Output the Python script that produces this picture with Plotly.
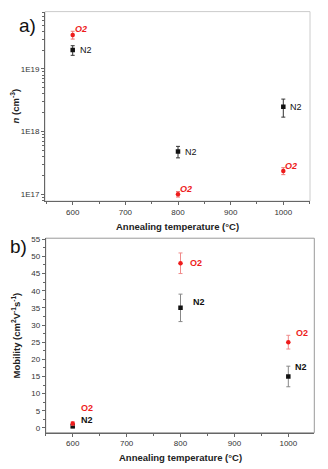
import math
import plotly.graph_objects as go

temps = [600, 800, 1000]

# Panel a: carrier concentration n (cm^-3)
n_N2 = [2.0e19, 4.8e17, 2.5e18]
n_N2_err = [0.35e19, 1.0e17, 0.8e18]
n_O2 = [3.5e19, 1.0e17, 2.35e17]
n_O2_err = [0.5e19, 0.1e17, 0.3e17]

# Panel b: mobility (cm^2 V^-1 s^-1)
mu_N2 = [0.5, 35, 15]
mu_N2_err = [0.5, 4, 3]
mu_O2 = [1.3, 48, 25]
mu_O2_err = [0.5, 3, 2]

n_ticks = [1e17, 1e18, 1e19]
n_ticktext = ["1E17", "1E18", "1E19"]
x_ticks = [600, 700, 800, 900, 1000]
mu_ticks = list(range(0, 60, 5))

FONT = "Liberation Sans, Arial, sans-serif"
RED = "#ee1c1c"
BLACK = "#111111"

# The page body has an 8px margin, so the figure is drawn 8px in from the
# window's top-left corner; work in window pixels and convert.
W, H, OFF = 320, 461, 8


def px(x):
    return (x - OFF) / W


def py(y):
    return 1 - (y - OFF) / H


fig = go.Figure()

# Panel a traces
fig.add_trace(go.Scatter(
    x=temps, y=n_N2, mode="markers", xaxis="x", yaxis="y",
    marker=dict(symbol="square", size=4.5, color=BLACK),
    error_y=dict(type="data", array=n_N2_err, color="#333333", thickness=1, width=2),
    showlegend=False))
fig.add_trace(go.Scatter(
    x=temps, y=n_O2, mode="markers", xaxis="x", yaxis="y",
    marker=dict(symbol="circle", size=4.5, color=RED),
    error_y=dict(type="data", array=n_O2_err, color="#f07070", thickness=1, width=2),
    showlegend=False))

# Panel b traces
fig.add_trace(go.Scatter(
    x=temps, y=mu_N2, mode="markers", xaxis="x2", yaxis="y2",
    marker=dict(symbol="square", size=4.5, color=BLACK),
    error_y=dict(type="data", array=mu_N2_err, color="#888888", thickness=1, width=2),
    showlegend=False))
fig.add_trace(go.Scatter(
    x=temps, y=mu_O2, mode="markers", xaxis="x2", yaxis="y2",
    marker=dict(symbol="circle", size=4.5, color=RED),
    error_y=dict(type="data", array=mu_O2_err, color="#f08a8a", thickness=1, width=2),
    showlegend=False))

annotations = []
# Panel a labels (log axis: annotation y in log10 units)
a_N2_shift = [(5, 0), (5, 0), (5, 0)]
a_O2_shift = [(0, 6), (0, 5), (0, 5)]
for x, y, (dx, dy) in zip(temps, n_N2, a_N2_shift):
    annotations.append(dict(x=x, y=math.log10(y), xref="x", yref="y", text="N2", showarrow=False,
                            xanchor="left", yanchor="middle", xshift=dx, yshift=dy,
                            font=dict(family=FONT, size=9, color=BLACK)))
for x, y, (dx, dy) in zip(temps, n_O2, a_O2_shift):
    annotations.append(dict(x=x, y=math.log10(y), xref="x", yref="y", text="<b><i>O2</i></b>",
                            showarrow=False, xanchor="left", yanchor="middle", xshift=dx, yshift=dy,
                            font=dict(family=FONT, size=9, color=RED)))
# Panel b labels
b_N2_shift = [(6, 6), (10, 6), (5, 9)]
b_O2_shift = [(6, 15), (7, 0), (6, 9)]
for x, y, (dx, dy) in zip(temps, mu_N2, b_N2_shift):
    annotations.append(dict(x=x, y=y, xref="x2", yref="y2", text="<b>N2</b>", showarrow=False,
                            xanchor="left", yanchor="middle", xshift=dx, yshift=dy,
                            font=dict(family=FONT, size=9, color=BLACK)))
for x, y, (dx, dy) in zip(temps, mu_O2, b_O2_shift):
    annotations.append(dict(x=x, y=y, xref="x2", yref="y2", text="<b>O2</b>", showarrow=False,
                            xanchor="left", yanchor="middle", xshift=dx, yshift=dy,
                            font=dict(family=FONT, size=9, color=RED)))

# Panel letters
annotations.append(dict(x=px(17), y=py(22.7), xref="paper", yref="paper", text="a)",
                        showarrow=False, xanchor="left", yanchor="middle",
                        font=dict(family=FONT, size=19, color="#111")))
annotations.append(dict(x=px(8), y=py(245), xref="paper", yref="paper", text="b)",
                        showarrow=False, xanchor="left", yanchor="middle",
                        font=dict(family=FONT, size=19, color="#111")))

# Axis titles placed as annotations
title_font = dict(family=FONT, size=9.5, color="#222")
annotations += [
    dict(x=px((45 + 310) / 2), y=py(224.5), xref="paper", yref="paper",
         text="<b>Annealing temperature (°C)</b>", showarrow=False,
         xanchor="center", yanchor="middle", font=title_font),
    dict(x=px((45.7 + 314.3) / 2), y=py(457), xref="paper", yref="paper",
         text="<b>Annealing temperature (°C)</b>", showarrow=False,
         xanchor="center", yanchor="middle", font=title_font),
    dict(x=px(15), y=py(104), xref="paper", yref="paper",
         text="<b><i>n</i> (cm<sup>-3</sup>)</b>", showarrow=False, textangle=-90,
         xanchor="center", yanchor="middle", font=title_font),
    dict(x=px(16), y=py(334.6), xref="paper", yref="paper",
         text="<b>Mobility (cm<sup>2</sup>V<sup>-1</sup>s<sup>-1</sup>)</b>", showarrow=False,
         textangle=-90, xanchor="center", yanchor="middle", font=title_font),
]

axis_common = dict(showgrid=False, zeroline=False, showline=True, linecolor="#666666",
                   linewidth=1, ticks="outside", ticklen=3, tickcolor="#666666",
                   tickfont=dict(family=FONT, size=8, color="#333333"))

x_domain_a = [px(45), px(310)]
y_domain_a = [py(199.3), py(8.6)]
x_domain_b = [px(45.7), px(314.3)]
y_domain_b = [py(432.5), py(236.7)]

fig.update_layout(
    width=W, height=H,
    margin=dict(l=0, r=0, t=0, b=0),
    paper_bgcolor="white", plot_bgcolor="white",
    showlegend=False,
    xaxis=dict(axis_common, domain=x_domain_a, anchor="y", range=[547.4, 1050.7],
               tickvals=x_ticks, minor=dict(ticks="outside", ticklen=2, dtick=50, tickcolor="#666666")),
    yaxis=dict(axis_common, domain=y_domain_a, anchor="x", type="log", range=[16.89, 19.916],
               tickvals=n_ticks, ticktext=n_ticktext,
               minor=dict(ticks="outside", ticklen=2, tickcolor="#666666", dtick="D1")),
    xaxis2=dict(axis_common, domain=x_domain_b, anchor="y2", range=[549.9, 1048.2],
                tickvals=x_ticks, minor=dict(ticks="outside", ticklen=2, dtick=50, tickcolor="#666666")),
    yaxis2=dict(axis_common, domain=y_domain_b, anchor="x2", range=[-1.4, 55.3],
                tickvals=mu_ticks, minor=dict(ticks="outside", ticklen=2, dtick=2.5, tickcolor="#666666")),
    annotations=annotations,
    shapes=[
        dict(type="rect", xref="x domain", yref="y domain", x0=0, x1=1, y0=0, y1=1,
             line=dict(color="#cccccc", width=1), layer="below"),
        dict(type="rect", xref="x2 domain", yref="y2 domain", x0=0, x1=1, y0=0, y1=1,
             line=dict(color="#999999", width=1), layer="below"),
    ],
)

fig.write_html("out.html")
